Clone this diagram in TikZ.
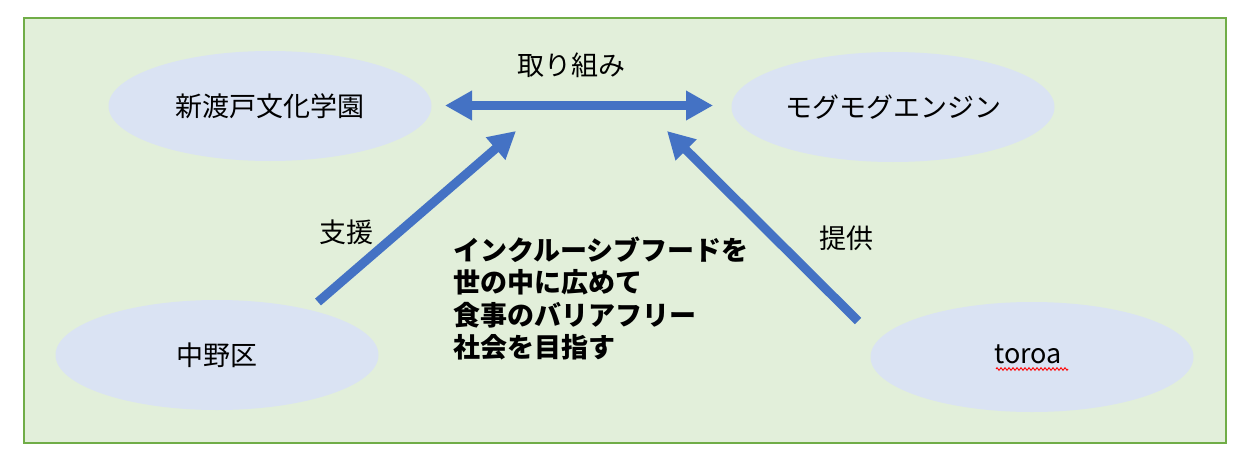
\documentclass[tikz,border=0pt]{standalone}
\usepackage{fontspec}
\setmainfont{Noto Sans CJK JP}
\usetikzlibrary{arrows.meta,shapes.geometric,decorations.pathmorphing}
\definecolor{bggreen}{HTML}{E2EFDA}
\definecolor{framegreen}{HTML}{70AD47}
\definecolor{ellblue}{HTML}{DAE3F3}
\definecolor{arrowblue}{HTML}{4472C4}
\begin{document}
\begin{tikzpicture}[x=1pt,y=-1pt,
  org/.style={ellipse, fill=ellblue, minimum width=323pt, minimum height=110pt,
    inner sep=0pt, outer sep=0pt, font=\fontsize{27}{32}\selectfont},
  lbl/.style={font=\fontsize{27}{32}\selectfont, inner sep=0pt},
  bigtip/.tip={Triangle[length=27pt,width=28pt]},
  bigarrow/.style={draw=arrowblue, line width=9pt},
  squiggle/.style={draw=red, line width=0.9pt, decorate,
    decoration={zigzag, segment length=4pt, amplitude=1.3pt}},
]
\useasboundingbox (0,0) rectangle (1246,468);
\fill[white] (0,0) rectangle (1246,468);
\draw[fill=bggreen, draw=framegreen, line width=2.5pt] (24,18) rectangle (1226,443);

\node[org] (nitobe) at (270,106) {新渡戸文化学園};
\node[org] (mogu) at (893,107) {モグモグエンジン};
\node[org] (nakano) at (217,355) {中野区};
\node[org] (toroa) at (1032,357) {};
\node[lbl, anchor=base] (toroatext) at (1028,363) {toroa};
\draw[squiggle] (996,369) -- (1068,369);

\node[lbl] (torikumi) at (571,65) {取り組み};
\node[lbl] (shien) at (346,232) {支援};
\node[lbl] (teikyo) at (846,238) {提供};

\node[inner sep=0pt, anchor=west, align=left,
  font=\fontsize{27}{32.5}\selectfont\bfseries] (goal) at (453,298.5)
  {インクルーシブフードを\\世の中に広めて\\食事のバリアフリー\\社会を目指す};

\coordinate (dl) at (445,105.5);
\coordinate (dr) at (713,105.5);
\coordinate (t1) at (318,302);
\coordinate (h1) at (516,131);
\coordinate (t2) at (858,321);
\coordinate (h2) at (667,131);

\draw[bigarrow, bigtip-bigtip] (dl) -- (dr);
\draw[bigarrow, -bigtip] (t1) -- (h1);
\draw[bigarrow, -bigtip] (t2) -- (h2);
\end{tikzpicture}
\end{document}
